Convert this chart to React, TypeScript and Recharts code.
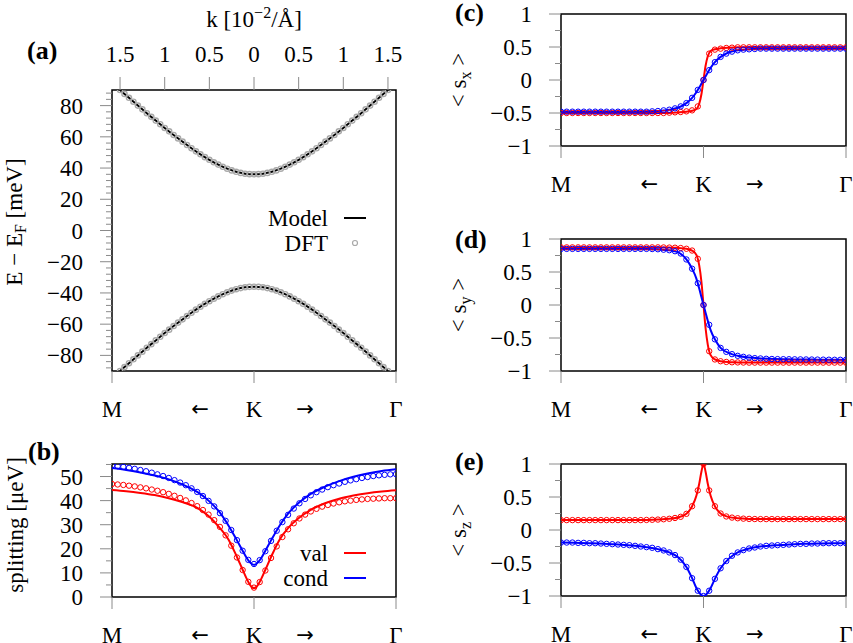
import type { ReactNode } from "react";
import { ComposedChart, Line, Scatter, XAxis, YAxis, ReferenceArea, Legend } from "recharts";

const FONT = "'Liberation Serif', 'Times New Roman', serif";
const ARROW_FONT = "'DejaVu Sans', sans-serif";
const FS = 23;
const TICK = "#8a8a8a";
const RED = "#ff0000";
const BLUE = "#0000ff";
const DFT_GREY = "#a9a9a9";

// bottom path axis: M <- K -> Gamma
const pathLabels = ["M", "\u2190", "K", "\u2192", "\u0393"];
const pathTicks = [-1, -0.38, 0, 0.36, 1];
const pathTicksA = [-1.59, -0.604, 0, 0.572, 1.59];
const kTicks = [-1.5, -1, -0.5, 0, 0.5, 1, 1.5];
const kLabels = ["1.5", "1", "0.5", "0", "0.5", "1", "1.5"];

// (a) band structure
const kDft = [-1.5, -1.45, -1.4, -1.35, -1.3, -1.25, -1.2, -1.15, -1.1, -1.05, -1, -0.95, -0.9, -0.85, -0.8, -0.75, -0.7, -0.65, -0.6, -0.55, -0.5, -0.45, -0.4, -0.35, -0.3, -0.25, -0.2, -0.15, -0.1, -0.05, 0, 0.05, 0.1, 0.15, 0.2, 0.25, 0.3, 0.35, 0.4, 0.45, 0.5, 0.55, 0.6, 0.65, 0.7, 0.75, 0.8, 0.85, 0.9, 0.95, 1, 1.05, 1.1, 1.15, 1.2, 1.25, 1.3, 1.35, 1.4, 1.45, 1.5];
const condDftA = [90.0, 87.5, 85.0, 82.5, 80.0, 77.6, 75.1, 72.8, 70.4, 68.1, 65.7, 63.5, 61.2, 59.0, 56.9, 54.8, 52.7, 50.7, 48.8, 47.0, 45.3, 43.7, 42.2, 40.8, 39.6, 38.5, 37.6, 36.9, 36.4, 36.1, 36.0, 36.1, 36.4, 36.9, 37.6, 38.5, 39.6, 40.8, 42.2, 43.7, 45.3, 47.0, 48.8, 50.7, 52.7, 54.8, 56.9, 59.0, 61.2, 63.5, 65.7, 68.1, 70.4, 72.8, 75.1, 77.6, 80.0, 82.5, 85.0, 87.5, 90.0];
const valDftA = [-90.0, -87.5, -85.0, -82.5, -80.0, -77.6, -75.1, -72.8, -70.4, -68.1, -65.7, -63.5, -61.2, -59.0, -56.9, -54.8, -52.7, -50.7, -48.8, -47.0, -45.3, -43.7, -42.2, -40.8, -39.6, -38.5, -37.6, -36.9, -36.4, -36.1, -36.0, -36.1, -36.4, -36.9, -37.6, -38.5, -39.6, -40.8, -42.2, -43.7, -45.3, -47.0, -48.8, -50.7, -52.7, -54.8, -56.9, -59.0, -61.2, -63.5, -65.7, -68.1, -70.4, -72.8, -75.1, -77.6, -80.0, -82.5, -85.0, -87.5, -90.0];
const kModel = [-1.5, -1.4, -1.3, -1.2, -1.1, -1, -0.9, -0.8, -0.7, -0.6, -0.5, -0.4, -0.3, -0.2, -0.1, 0, 0.1, 0.2, 0.3, 0.4, 0.5, 0.6, 0.7, 0.8, 0.9, 1, 1.1, 1.2, 1.3, 1.4, 1.5];
const condModelA = [90.0, 85.0, 80.0, 75.1, 70.4, 65.7, 61.2, 56.9, 52.7, 48.8, 45.3, 42.2, 39.6, 37.6, 36.4, 36.0, 36.4, 37.6, 39.6, 42.2, 45.3, 48.8, 52.7, 56.9, 61.2, 65.7, 70.4, 75.1, 80.0, 85.0, 90.0];
const valModelA = [-90.0, -85.0, -80.0, -75.1, -70.4, -65.7, -61.2, -56.9, -52.7, -48.8, -45.3, -42.2, -39.6, -37.6, -36.4, -36.0, -36.4, -37.6, -39.6, -42.2, -45.3, -48.8, -52.7, -56.9, -61.2, -65.7, -70.4, -75.1, -80.0, -85.0, -90.0];

// path coordinate for (b)-(e): M = -1, K = 0, Gamma = 1
const dftU = [-1, -0.96, -0.92, -0.88, -0.84, -0.8, -0.76, -0.72, -0.68, -0.64, -0.6, -0.56, -0.52, -0.48, -0.44, -0.4, -0.36, -0.32, -0.28, -0.24, -0.2, -0.16, -0.12, -0.08, -0.04, 0, 0.04, 0.08, 0.12, 0.16, 0.2, 0.24, 0.28, 0.32, 0.36, 0.4, 0.44, 0.48, 0.52, 0.56, 0.6, 0.64, 0.68, 0.72, 0.76, 0.8, 0.84, 0.88, 0.92, 0.96, 1];
const modelU = [-1, -0.9, -0.8, -0.7, -0.6, -0.5, -0.4, -0.32, -0.24, -0.18, -0.12, -0.08, -0.05, -0.03, -0.015, 0, 0.015, 0.03, 0.05, 0.08, 0.12, 0.18, 0.24, 0.32, 0.4, 0.5, 0.6, 0.7, 0.8, 0.9, 1];

// (b) splitting [ueV]
const splitValDft = [46.9, 46.7, 46.5, 46.2, 45.9, 45.5, 45.1, 44.6, 44.1, 43.5, 42.8, 42.0, 41.1, 40.1, 39.0, 37.7, 36.1, 34.2, 31.9, 29.1, 25.6, 21.3, 16.4, 11.2, 6.3, 3.9, 6.2, 11.0, 16.2, 21.0, 24.9, 28.1, 30.6, 32.6, 34.2, 35.5, 36.6, 37.5, 38.2, 38.8, 39.3, 39.7, 40.0, 40.3, 40.5, 40.7, 40.8, 40.9, 41.0, 41.0, 41.0];
const splitCondDft = [54.6, 54.3, 54.0, 53.6, 53.2, 52.7, 52.2, 51.6, 50.9, 50.2, 49.4, 48.5, 47.5, 46.4, 45.1, 43.6, 41.9, 39.9, 37.6, 34.8, 31.6, 27.8, 23.6, 19.2, 15.4, 13.7, 15.3, 19.0, 23.3, 27.5, 31.1, 34.1, 36.7, 38.9, 40.7, 42.2, 43.5, 44.6, 45.6, 46.4, 47.1, 47.8, 48.4, 48.9, 49.4, 49.8, 50.2, 50.5, 50.7, 50.9, 51.0];
const splitValModel = [44.4, 43.9, 43.2, 42.3, 41.0, 39.3, 37.0, 33.6, 28.6, 23.9, 16.6, 11.3, 7.4, 5.2, 4.1, 3.7, 4.1, 5.2, 7.4, 11.3, 16.6, 23.8, 28.6, 33.0, 36.2, 38.9, 40.8, 42.1, 43.1, 43.8, 44.3];
const splitCondModel = [53.5, 52.7, 51.7, 50.4, 48.8, 46.6, 43.6, 40.0, 35.0, 29.7, 23.5, 19.2, 16.1, 14.5, 13.7, 13.4, 13.7, 14.5, 16.1, 19.2, 23.5, 29.6, 34.6, 39.3, 42.8, 45.8, 48.1, 49.9, 51.3, 52.3, 53.0];

// (c) <s_x>
const sxValDft = [-0.5, -0.5, -0.5, -0.5, -0.5, -0.5, -0.5, -0.5, -0.5, -0.5, -0.5, -0.5, -0.5, -0.5, -0.5, -0.5, -0.5, -0.5, -0.5, -0.495, -0.49, -0.485, -0.475, -0.46, -0.4, 0, 0.4, 0.46, 0.475, 0.485, 0.49, 0.495, 0.495, 0.495, 0.495, 0.495, 0.495, 0.495, 0.495, 0.495, 0.495, 0.495, 0.495, 0.495, 0.495, 0.495, 0.495, 0.495, 0.495, 0.495, 0.495];
const sxCondDft = [-0.48, -0.48, -0.48, -0.48, -0.48, -0.48, -0.48, -0.48, -0.48, -0.48, -0.48, -0.48, -0.48, -0.48, -0.48, -0.48, -0.475, -0.47, -0.46, -0.45, -0.43, -0.4, -0.35, -0.27, -0.15, 0, 0.15, 0.27, 0.35, 0.4, 0.43, 0.45, 0.46, 0.465, 0.47, 0.475, 0.475, 0.475, 0.475, 0.475, 0.475, 0.475, 0.475, 0.475, 0.475, 0.475, 0.475, 0.475, 0.475, 0.475, 0.475];
const sxValModel = [-0.5, -0.5, -0.5, -0.5, -0.5, -0.5, -0.5, -0.5, -0.5, -0.492, -0.48, -0.465, -0.44, -0.36, -0.22, 0, 0.22, 0.36, 0.44, 0.465, 0.48, 0.49, 0.495, 0.495, 0.495, 0.495, 0.495, 0.495, 0.495, 0.495, 0.495];
const sxCondModel = [-0.48, -0.48, -0.48, -0.48, -0.48, -0.48, -0.478, -0.47, -0.45, -0.42, -0.35, -0.27, -0.185, -0.115, -0.058, 0, 0.058, 0.115, 0.185, 0.27, 0.35, 0.42, 0.45, 0.465, 0.472, 0.475, 0.475, 0.475, 0.475, 0.475, 0.475];

// (d) <s_y>
const syValDft = [0.873, 0.873, 0.873, 0.873, 0.873, 0.873, 0.873, 0.873, 0.873, 0.873, 0.873, 0.873, 0.873, 0.873, 0.873, 0.873, 0.873, 0.873, 0.872, 0.87, 0.868, 0.863, 0.852, 0.825, 0.7, 0, -0.7, -0.825, -0.852, -0.863, -0.868, -0.87, -0.872, -0.873, -0.873, -0.873, -0.873, -0.873, -0.873, -0.873, -0.873, -0.873, -0.873, -0.873, -0.873, -0.873, -0.873, -0.873, -0.873, -0.873, -0.873];
const syCondDft = [0.85, 0.85, 0.85, 0.85, 0.85, 0.85, 0.85, 0.85, 0.85, 0.85, 0.85, 0.85, 0.85, 0.85, 0.85, 0.85, 0.848, 0.845, 0.838, 0.83, 0.815, 0.78, 0.69, 0.55, 0.33, 0, -0.3, -0.52, -0.65, -0.71, -0.745, -0.77, -0.785, -0.797, -0.805, -0.81, -0.815, -0.818, -0.82, -0.821, -0.822, -0.823, -0.824, -0.825, -0.826, -0.827, -0.828, -0.829, -0.83, -0.83, -0.83];
const syValModel = [0.873, 0.873, 0.873, 0.873, 0.873, 0.873, 0.873, 0.873, 0.87, 0.866, 0.852, 0.825, 0.76, 0.6, 0.36, 0, -0.36, -0.6, -0.76, -0.825, -0.852, -0.866, -0.87, -0.873, -0.873, -0.873, -0.873, -0.873, -0.873, -0.873, -0.873];
const syCondModel = [0.85, 0.85, 0.85, 0.85, 0.85, 0.85, 0.848, 0.843, 0.828, 0.8, 0.69, 0.55, 0.4, 0.25, 0.125, 0, -0.12, -0.24, -0.38, -0.52, -0.65, -0.73, -0.77, -0.797, -0.81, -0.82, -0.823, -0.826, -0.828, -0.83, -0.83];

// (e) <s_z>
const szValDft = [0.15, 0.15, 0.15, 0.15, 0.15, 0.15, 0.15, 0.15, 0.15, 0.15, 0.15, 0.15, 0.15, 0.15, 0.15, 0.152, 0.155, 0.158, 0.163, 0.17, 0.182, 0.2, 0.245, 0.36, 0.6, 1.0, 0.6, 0.36, 0.25, 0.205, 0.188, 0.178, 0.172, 0.168, 0.166, 0.165, 0.165, 0.165, 0.165, 0.165, 0.165, 0.165, 0.165, 0.165, 0.165, 0.165, 0.165, 0.165, 0.165, 0.165, 0.165];
const szCondDft = [-0.19, -0.19, -0.19, -0.195, -0.195, -0.2, -0.2, -0.205, -0.21, -0.215, -0.22, -0.225, -0.23, -0.24, -0.25, -0.26, -0.27, -0.29, -0.31, -0.34, -0.38, -0.45, -0.56, -0.73, -0.92, -1.0, -0.92, -0.74, -0.58, -0.47, -0.39, -0.34, -0.305, -0.28, -0.265, -0.25, -0.24, -0.235, -0.23, -0.225, -0.22, -0.215, -0.21, -0.21, -0.205, -0.205, -0.2, -0.2, -0.2, -0.2, -0.2];
const szValModel = [0.15, 0.15, 0.15, 0.15, 0.15, 0.15, 0.152, 0.158, 0.17, 0.19, 0.245, 0.36, 0.52, 0.7, 0.88, 1.0, 0.88, 0.7, 0.52, 0.36, 0.25, 0.195, 0.178, 0.168, 0.165, 0.165, 0.165, 0.165, 0.165, 0.165, 0.165];
const szCondModel = [-0.19, -0.195, -0.2, -0.207, -0.22, -0.235, -0.26, -0.29, -0.34, -0.41, -0.56, -0.73, -0.88, -0.95, -0.985, -1.0, -0.985, -0.95, -0.88, -0.74, -0.58, -0.43, -0.34, -0.28, -0.25, -0.232, -0.22, -0.21, -0.205, -0.2, -0.2];

// y ticks
const bandMajor = [-80, -60, -40, -20, 0, 20, 40, 60, 80];
const bandMinor = [-88, -84, -76, -72, -68, -64, -56, -52, -48, -44, -36, -32, -28, -24, -16, -12, -8, -4, 4, 8, 12, 16, 24, 28, 32, 36, 44, 48, 52, 56, 64, 68, 72, 76, 84, 88];
const splitMajor = [0, 10, 20, 30, 40, 50];
const splitMinor = [5, 15, 25, 35, 45, 55];
const spinMajor = [-1, -0.5, 0, 0.5, 1];
const spinMinor = [-0.75, -0.25, 0.25, 0.75];

const legendA = [
  { label: "Model", kind: "line", color: "#000000" },
  { label: "DFT", kind: "ring", color: DFT_GREY },
];
const legendB = [
  { label: "val", kind: "line", color: RED },
  { label: "cond", kind: "line", color: BLUE },
];

const pts = (xs: number[], ys: number[]) => xs.map((x, i) => ({ x, y: ys[i] }));
const fmt = (v: number) => (v < 0 ? `\u2212${Math.abs(v)}` : `${v}`);

const ring = (color: string, r: number, sw: number) => (p: any) =>
  p.cx == null ? <g /> : <circle cx={p.cx} cy={p.cy} r={r} fill="none" stroke={color} strokeWidth={sw} />;

type Box = { left: number; top: number; width: number; height: number };
type Frame = { x0: number; y0: number; x1: number; y1: number };

const LegendBox = ({ items }: { items: { label: string; kind: string; color: string }[] }) => (
  <svg width={130} height={60} style={{ overflow: "visible" }}>
    {items.map((it, i) => (
      <g key={it.label}>
        <text x={78} y={26 + i * 25} textAnchor="end" fontFamily={FONT} fontSize={FS} fill="#000">
          {it.label}
        </text>
        {it.kind === "line" ? (
          <line x1={94} x2={116} y1={18 + i * 25} y2={18 + i * 25} stroke={it.color} strokeWidth={2} />
        ) : (
          <circle cx={105} cy={18 + i * 25} r={2.5} fill="none" stroke={it.color} strokeWidth={1.2} />
        )}
      </g>
    ))}
  </svg>
);

function Panel(props: {
  box: Box;
  frame: Frame;
  xDomain: [number, number];
  yDomain: [number, number];
  yMajor: number[];
  yMinor: number[];
  xTicks: number[];
  topTicks?: number[];
  legend?: ReactNode;
  children: ReactNode;
}) {
  const { box, frame, xDomain, yDomain, yMajor, yMinor, xTicks, topTicks } = props;
  const fx0 = frame.x0 - box.left;
  const fy0 = frame.y0 - box.top;
  const fx1 = frame.x1 - box.left;
  const fy1 = frame.y1 - box.top;
  const yAxisW = 40;
  const topH = topTicks ? 30 : 0;
  const botH = 20;
  const margin = { left: fx0 - yAxisW, top: fy0 - topH, right: box.width - fx1, bottom: box.height - fy1 - botH };

  const yTick = (p: any) => {
    const v = p.payload.value;
    const y = p.payload.coordinate ?? p.y;
    const major = yMajor.includes(v);
    return (
      <g>
        <line x1={fx0 - (major ? 12 : 6)} x2={fx0} y1={y} y2={y} stroke={TICK} strokeWidth={1} />
        {major && (
          <text x={fx0 - 29} y={y + 8} textAnchor="end" fontFamily={FONT} fontSize={FS} fill="#000">
            {fmt(v)}
          </text>
        )}
      </g>
    );
  };

  const xTick = (p: any) => {
    const v = p.payload.value;
    const x = p.payload.coordinate ?? p.x;
    const i = xTicks.indexOf(v);
    const isArrow = i % 2 === 1;
    return (
      <g>
        {!isArrow && <line x1={x} x2={x} y1={fy1} y2={fy1 + 12} stroke={TICK} strokeWidth={1} />}
        <text
          x={x}
          y={fy1 + (isArrow ? 45 : 46)}
          textAnchor="middle"
          fontFamily={isArrow ? ARROW_FONT : FONT}
          fontSize={isArrow ? 21 : FS}
          fill="#000"
        >
          {pathLabels[i]}
        </text>
      </g>
    );
  };

  const topTick = (p: any) => {
    const v = p.payload.value;
    const x = p.payload.coordinate ?? p.x;
    const i = (topTicks || []).indexOf(v);
    return (
      <g>
        <line x1={x} x2={x} y1={fy0 - 13} y2={fy0} stroke={TICK} strokeWidth={1} />
        <text x={x} y={fy0 - 28} textAnchor="middle" fontFamily={FONT} fontSize={FS} fill="#000">
          {kLabels[i]}
        </text>
      </g>
    );
  };

  return (
    <div style={{ position: "absolute", left: box.left, top: box.top }}>
      <ComposedChart width={box.width} height={box.height} margin={margin}>
        <XAxis
          type="number"
          dataKey="x"
          domain={xDomain}
          allowDataOverflow
          ticks={xTicks}
          interval={0}
          tick={xTick}
          tickLine={false}
          axisLine={false}
          height={botH}
        />
        {topTicks && (
          <XAxis
            xAxisId="top"
            orientation="top"
            type="number"
            dataKey="x"
            domain={xDomain}
            allowDataOverflow
            ticks={topTicks}
            interval={0}
            tick={topTick}
            tickLine={false}
            axisLine={false}
            height={topH}
          />
        )}
        <YAxis
          type="number"
          dataKey="y"
          domain={yDomain}
          allowDataOverflow
          ticks={[...yMajor, ...yMinor]}
          interval={0}
          tick={yTick}
          tickLine={false}
          axisLine={false}
          width={yAxisW}
        />
        <ReferenceArea
          x1={xDomain[0]}
          x2={xDomain[1]}
          y1={yDomain[0]}
          y2={yDomain[1]}
          fill="none"
          fillOpacity={0}
          stroke="#000"
          strokeWidth={1.5}
          ifOverflow="visible"
        />
        {props.children}
        {props.legend}
      </ComposedChart>
    </div>
  );
}

const lineProps = { type: "monotone" as const, dataKey: "y", dot: false, activeDot: false, isAnimationActive: false, strokeWidth: 2 };

const spinSeries = (valModel: number[], condModel: number[], valDft: number[], condDft: number[]) => [
  <Line key="vm" data={pts(modelU, valModel)} stroke={RED} {...lineProps} />,
  <Scatter key="vd" data={pts(dftU, valDft)} dataKey="y" shape={ring(RED, 2.7, 1)} isAnimationActive={false} />,
  <Line key="cm" data={pts(modelU, condModel)} stroke={BLUE} {...lineProps} />,
  <Scatter key="cd" data={pts(dftU, condDft)} dataKey="y" shape={ring(BLUE, 2.7, 1)} isAnimationActive={false} />,
];

const SpinLabel = ({ x, y, sub }: { x: number; y: number; sub: string }) => (
  <text transform={`rotate(-90 ${x} ${y})`} x={x} y={y} textAnchor="middle" fontFamily={FONT} fontSize={FS}>
    {"< s"}
    <tspan dy={5} fontSize={16}>
      {sub}
    </tspan>
    <tspan dy={-5}>{" >"}</tspan>
  </text>
);

export default function App() {
  return (
    <div style={{ position: "absolute", left: 0, top: 0, width: 853, height: 643, background: "#fff", overflow: "hidden" }}>
      <svg width={853} height={643} style={{ position: "absolute", left: 0, top: 0 }}>
        <g fontFamily={FONT} fill="#000">
          <text x={27} y={59} fontSize={26} fontWeight="bold">(a)</text>
          <text x={28} y={460} fontSize={26} fontWeight="bold">(b)</text>
          <text x={455} y={21} fontSize={26} fontWeight="bold">(c)</text>
          <text x={455} y={248} fontSize={26} fontWeight="bold">(d)</text>
          <text x={455} y={470} fontSize={26} fontWeight="bold">(e)</text>
          <text x={254} y={27} textAnchor="middle" fontSize={FS}>
            {"k [10"}
            <tspan dy={-9} fontSize={16}>{"\u22122"}</tspan>
            <tspan dy={9}>{"/\u00c5]"}</tspan>
          </text>
          <text transform="rotate(-90 22 222)" x={22} y={222} textAnchor="middle" fontSize={FS}>
            {"E \u2212 E"}
            <tspan dy={4} fontSize={16}>F</tspan>
            <tspan dy={-4}>{" [meV]"}</tspan>
          </text>
          <text transform="rotate(-90 23 525)" x={23} y={525} textAnchor="middle" fontSize={FS}>
            {"splitting [\u03bceV]"}
          </text>
          <SpinLabel x={466} y={80} sub="x" />
          <SpinLabel x={466} y={305} sub="y" />
          <SpinLabel x={466} y={530} sub="z" />
        </g>
      </svg>

      <Panel
        box={{ left: 0, top: 0, width: 430, height: 430 }}
        frame={{ x0: 112, y0: 90, x1: 396, y1: 371 }}
        xDomain={[-1.59, 1.59]}
        yDomain={[-90, 90]}
        yMajor={bandMajor}
        yMinor={bandMinor}
        xTicks={pathTicksA}
        topTicks={kTicks}
        legend={
          <Legend
            layout="vertical"
            align="center"
            verticalAlign="middle"
            wrapperStyle={{ left: 250, top: 200, width: 130, height: 60 }}
            content={() => <LegendBox items={legendA} />}
          />
        }
      >
        <Line key="cm" data={pts(kModel, condModelA)} stroke="#000" {...lineProps} />
        <Line key="vm" data={pts(kModel, valModelA)} stroke="#000" {...lineProps} />
        <Scatter key="cd" data={pts(kDft, condDftA)} dataKey="y" shape={ring(DFT_GREY, 2.6, 1.4)} isAnimationActive={false} />
        <Scatter key="vd" data={pts(kDft, valDftA)} dataKey="y" shape={ring(DFT_GREY, 2.6, 1.4)} isAnimationActive={false} />
      </Panel>

      <Panel
        box={{ left: 0, top: 435, width: 430, height: 208 }}
        frame={{ x0: 112, y0: 464, x1: 396, y1: 597 }}
        xDomain={[-1, 1]}
        yDomain={[0, 55.2]}
        yMajor={splitMajor}
        yMinor={splitMinor}
        xTicks={pathTicks}
        legend={
          <Legend
            layout="vertical"
            align="center"
            verticalAlign="middle"
            wrapperStyle={{ left: 250, top: 100, width: 130, height: 60 }}
            content={() => <LegendBox items={legendB} />}
          />
        }
      >
        {spinSeries(splitValModel, splitCondModel, splitValDft, splitCondDft)}
      </Panel>

      <Panel
        box={{ left: 430, top: 0, width: 423, height: 215 }}
        frame={{ x0: 561, y0: 14, x1: 846, y1: 146 }}
        xDomain={[-1, 1]}
        yDomain={[-1, 1]}
        yMajor={spinMajor}
        yMinor={spinMinor}
        xTicks={pathTicks}
      >
        {spinSeries(sxValModel, sxCondModel, sxValDft, sxCondDft)}
      </Panel>

      <Panel
        box={{ left: 430, top: 215, width: 423, height: 215 }}
        frame={{ x0: 561, y0: 239, x1: 846, y1: 371 }}
        xDomain={[-1, 1]}
        yDomain={[-1, 1]}
        yMajor={spinMajor}
        yMinor={spinMinor}
        xTicks={pathTicks}
      >
        {spinSeries(syValModel, syCondModel, syValDft, syCondDft)}
      </Panel>

      <Panel
        box={{ left: 430, top: 430, width: 423, height: 213 }}
        frame={{ x0: 561, y0: 464, x1: 846, y1: 596 }}
        xDomain={[-1, 1]}
        yDomain={[-1, 1]}
        yMajor={spinMajor}
        yMinor={spinMinor}
        xTicks={pathTicks}
      >
        {spinSeries(szValModel, szCondModel, szValDft, szCondDft)}
      </Panel>
    </div>
  );
}
